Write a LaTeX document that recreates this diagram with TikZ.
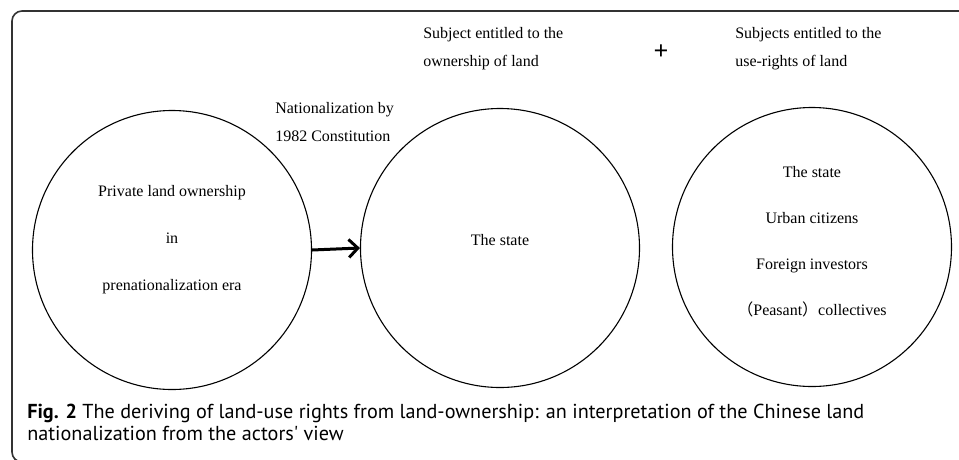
\documentclass[tikz,border=0pt]{standalone}
\usepackage{fontspec}
\setmainfont{Liberation Serif}
\newfontfamily\capfont{PT Sans}
\newfontfamily\cjk{Noto Sans CJK SC}
\usetikzlibrary{arrows.meta}

\begin{document}
\begin{tikzpicture}[x=1pt,y=-1pt,semithick,font=\fontsize{16}{19}\selectfont]
          \tikzstyle{every node}=[inner sep=0pt]
          \tikzstyle{ring}=[circle,draw=black,line width=1.1pt,minimum size=279pt]
          \tikzstyle{lbl}=[align=left,anchor=west]
          \tikzstyle{inner}=[align=center]
          \useasboundingbox (0,0) rectangle (959,459);
          % frame
          \draw[line width=1.6pt,draw=black!80,rounded corners=10pt] (975,11) -- (12,11) -- (12,462) -- (40,462);

          \node[ring] (priv)  at (172,250) {};
          \node[ring] (state) at (500,248) {};
          \node[ring] (users) at (812,247) {};

          \node[inner] (privtxt)  at (172,240) {Private land ownership\\[28pt]in\\[28pt]prenationalization era};
          \node[inner] (statetxt) at (500,240) {The state};
          \node[inner] (userstxt) at (812,242) {The state\\[27pt]Urban citizens\\[27pt]Foreign investors\\[27pt]{\cjk （}Peasant{\cjk ）}collectives};

          \node[lbl] (nat)   at (275,122) {Nationalization by\\[9pt]1982 Constitution};
          \node[lbl] (own)   at (423,49)  {Subject entitled to the\\[9pt]ownership of land};
          \node      (plus)  at (661,52)  {\fontsize{26}{26}\selectfont\textbf{+}};
          \node[lbl] (use)   at (735,49)  {Subjects entitled to the\\[9pt]use-rights of land};

          \draw[line width=3pt,-{Straight Barb[length=9pt,width=18pt]}] (priv.east) -- (state.west);

          \node[anchor=north west,align=left,font=\capfont\fontsize{20.2}{22}\selectfont] (cap) at (27,404)
            {\textbf{Fig. 2} The deriving of land-use rights from land-ownership: an interpretation of the Chinese land\\nationalization from the actors' view};
        \end{tikzpicture}
\end{document}
